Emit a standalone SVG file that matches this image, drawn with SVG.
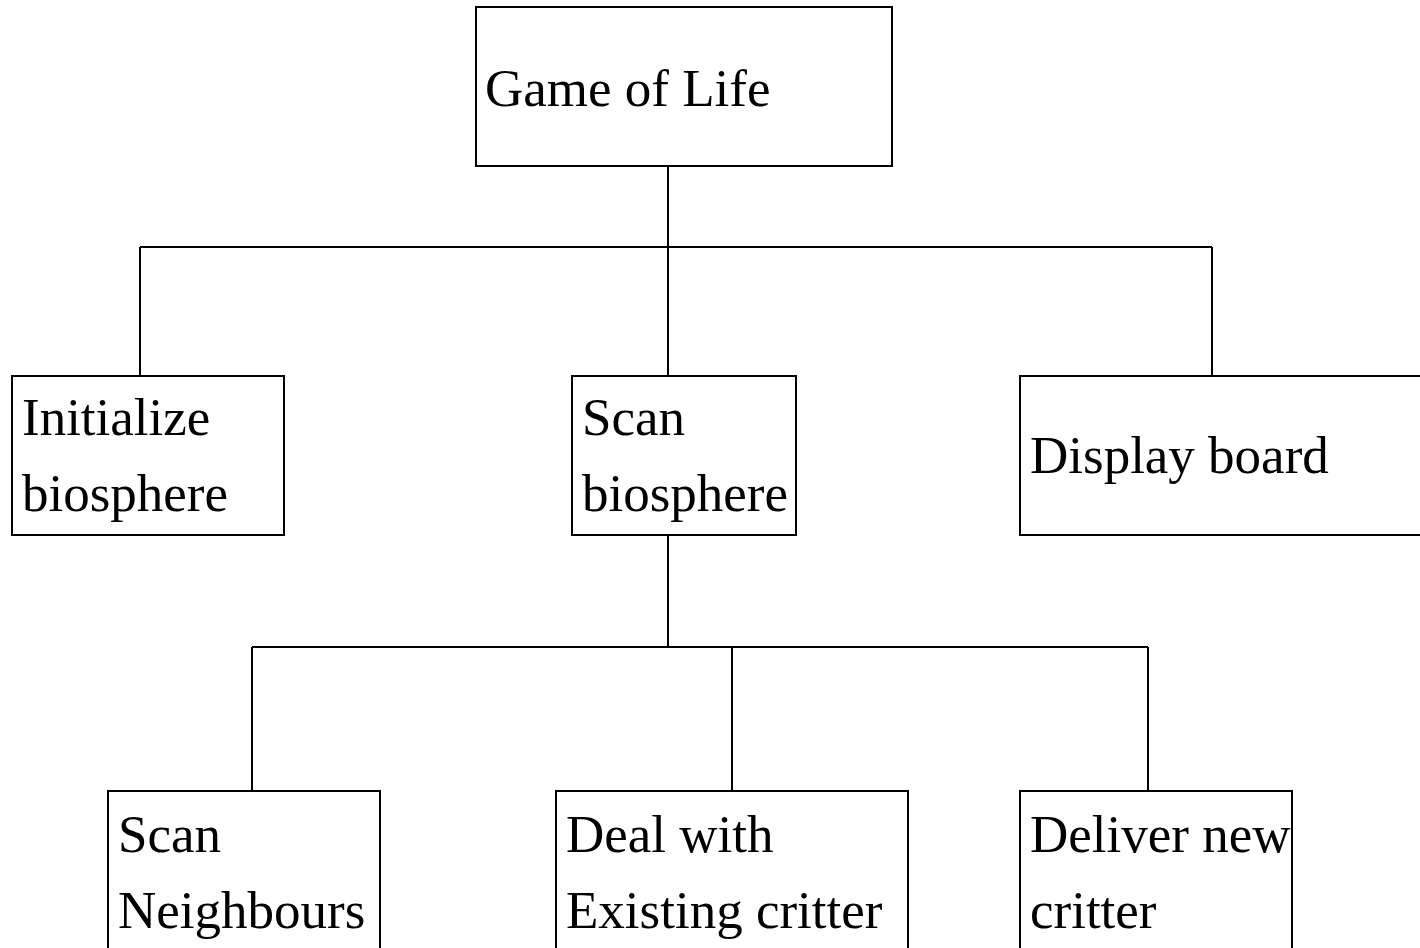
<svg xmlns="http://www.w3.org/2000/svg" width="1420" height="948" viewBox="0 0 1420 948">
  <style>
    .box { fill: #ffffff; stroke: #000000; stroke-width: 2; }
    .lbl { font-family: "Liberation Serif", "Times New Roman", serif; font-size: 53px; fill: #000000; }
    .wire { fill: none; stroke: #000000; stroke-width: 2; }
  </style>
  <rect width="1420" height="948" fill="#ffffff"/>

  <!-- connectors -->
  <g id="connectors">
    <path class="wire" d="M668 166 V247 M140 247 H1212 M140 247 V376 M668 247 V376 M1212 247 V376"/>
    <path class="wire" d="M668 535 V647 M252 647 H1148 M252 647 V791 M732 647 V791 M1148 647 V791"/>
  </g>

  <g id="game-of-life">
    <rect class="box" x="476" y="7" width="416" height="159"/>
    <text class="lbl" x="485" y="106">Game of Life</text>
  </g>

  <g id="initialize-biosphere">
    <rect class="box" x="12" y="376" width="272" height="159"/>
    <text class="lbl" x="22" y="435">Initialize</text>
    <text class="lbl" x="22" y="511">biosphere</text>
  </g>

  <g id="scan-biosphere">
    <rect class="box" x="572" y="376" width="224" height="159"/>
    <text class="lbl" x="582" y="435">Scan</text>
    <text class="lbl" x="582" y="511">biosphere</text>
  </g>

  <g id="display-board">
    <rect class="box" x="1020" y="376" width="410" height="159"/>
    <text class="lbl" x="1030" y="473">Display board</text>
  </g>

  <g id="scan-neighbours">
    <rect class="box" x="108" y="791" width="272" height="170"/>
    <text class="lbl" x="118" y="852">Scan</text>
    <text class="lbl" x="118" y="928">Neighbours</text>
  </g>

  <g id="deal-with-existing-critter">
    <rect class="box" x="556" y="791" width="352" height="170"/>
    <text class="lbl" x="566" y="852">Deal with</text>
    <text class="lbl" x="566" y="928">Existing critter</text>
  </g>

  <g id="deliver-new-critter">
    <rect class="box" x="1020" y="791" width="272" height="170"/>
    <text class="lbl" x="1030" y="852">Deliver new</text>
    <text class="lbl" x="1030" y="928">critter</text>
  </g>
</svg>
